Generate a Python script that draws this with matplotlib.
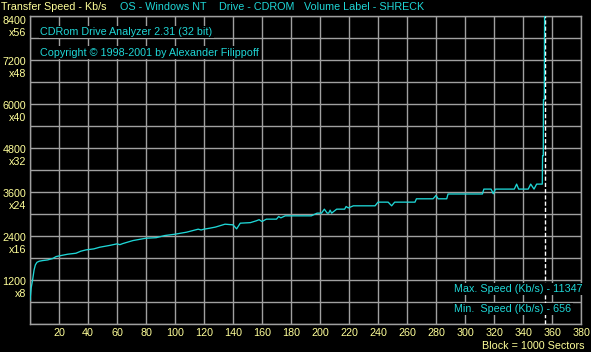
import matplotlib
matplotlib.use("Agg")
import matplotlib.pyplot as plt
import matplotlib.transforms as mtransforms

# ---- data ----
blocks = [0, 0.8, 1.8, 2.8, 3.7, 4.8, 6.4, 8.7, 12.2, 15.6, 18, 22.5, 26, 31.7, 35, 38.6,
          44, 48, 55, 60, 62, 64, 71, 80, 87, 93, 100, 108, 116, 118, 120, 124, 128,
          134.5, 140, 142.5, 145, 152, 156, 158, 160, 163, 170, 171.5, 173, 176, 194,
          198, 201, 203, 205, 206, 207, 208, 211.5, 217, 218, 219.5, 223, 238, 240, 247,
          249.4, 251.5, 265.5, 266.5, 278, 280, 281.5, 287.4, 288.3, 312, 313, 318, 319.5,
          321, 334, 335.6, 337, 343.6, 345.3, 347.6, 349.4, 353.3, 353.5, 354.0, 354.1,
          354.7, 354.8, 355.3]
speeds = [656, 980, 1200, 1470, 1610, 1680, 1710, 1727, 1745, 1782, 1836, 1873, 1900, 1927, 1982, 2018,
          2045, 2090, 2140, 2182, 2160, 2190, 2272, 2336, 2350, 2409, 2445, 2500, 2582, 2560, 2582, 2609, 2640,
          2718, 2700, 2590, 2745, 2760, 2809, 2840, 2790, 2855, 2855, 2927, 2890, 2945, 2945,
          3018, 3018, 3127, 3018, 3020, 3100, 3018, 3127, 3127, 3200, 3160, 3218, 3218, 3318, 3318,
          3218, 3318, 3318, 3409, 3409, 3500, 3409, 3409, 3540, 3540, 3673, 3673, 3545,
          3673, 3673, 3809, 3673, 3673, 3809, 3673, 3809, 3809, 4582, 4582, 6109,
          6109, 7655, 11347]
x_ticks = list(range(20, 400, 20))
y_ticks = list(range(1200, 8401, 1200))
y_mult = [v // 150 for v in y_ticks]
max_speed = 11347
min_speed = 656
end_block = 355.3

W, H = 591, 352
YEL = "#ffff99"
CYN = "#1fd6d6"
GRID = "#a0a0a0"
FONT = "Liberation Sans"
FS = 7.75

fig = plt.figure(figsize=(W / 100, H / 100), dpi=100, facecolor="black")
left, right, top, bottom = 30, 581, 15.5, 324
ax = fig.add_axes([left / W, 1 - bottom / H, (right - left) / W, (bottom - top) / H])
ax.set_facecolor("black")
ax.set_xlim(0, 380)
ax.set_ylim(0, 8400)
ax.set_xticks(range(0, 381, 20))
ax.set_yticks(range(0, 8401, 600))
ax.tick_params(length=0, labelbottom=False, labelleft=False)
ax.grid(True, color=GRID, linewidth=1.0)
for s in ax.spines.values():
    s.set_color(GRID)
    s.set_linewidth(1.0)

ax.axvline(end_block, color="white", linewidth=1.0, linestyle=(0, (3, 1.5)), zorder=3)
ax.plot(blocks, speeds, color=CYN, linewidth=0.95, zorder=4)

def fx(px):
    return px / W

def fy(py):
    return 1 - py / H

# y labels
px_per_unit = (bottom - top) / 8400.0
for v, m in zip(y_ticks, y_mult):
    gy = bottom - v * px_per_unit
    off = 5 if v == 8400 else 2
    fig.text(fx(26.5), fy(gy + off), str(v), color=YEL, fontsize=FS, family=FONT, ha="right", va="center")
    fig.text(fx(26.5), fy(gy + off + 12.5), f"x{m}", color=YEL, fontsize=FS, family=FONT, ha="right", va="center")

# x labels
tr = mtransforms.blended_transform_factory(ax.transData, fig.transFigure)
for v in x_ticks:
    ax.text(v, fy(333), str(v), color=YEL, fontsize=FS, family=FONT, ha="center", va="center", transform=tr)

fig.text(fx(584), fy(346), "Block = 1000 Sectors", color=YEL, fontsize=FS, family=FONT, ha="right", va="center")

# header
fig.text(fx(1), fy(7), "Transfer Speed - Kb/s", color=YEL, fontsize=FS, family=FONT, ha="left", va="center")
fig.text(fx(120.5), fy(7), "OS - Windows NT", color=CYN, fontsize=FS, family=FONT, ha="left", va="center")
fig.text(fx(219), fy(7), "Drive - CDROM", color=CYN, fontsize=FS, family=FONT, ha="left", va="center")
fig.text(fx(304), fy(7), "Volume Label - SHRECK", color=CYN, fontsize=FS, family=FONT, ha="left", va="center")

bb = dict(facecolor="black", edgecolor="none", pad=1.0)
fig.text(fx(40.5), fy(32), "CDRom Drive Analyzer 2.31 (32 bit)", color=CYN, fontsize=FS, family=FONT,
         ha="left", va="center", bbox=bb, zorder=5)
fig.text(fx(40.5), fy(52.5), "Copyright \u00a9 1998-2001 by Alexander Filippoff", color=CYN, fontsize=FS,
         family=FONT, ha="left", va="center", bbox=bb, zorder=5)
fig.text(fx(454), fy(289), f"Max. Speed (Kb/s) - {max_speed}", color=CYN, fontsize=FS, family=FONT,
         ha="left", va="center", bbox=bb, zorder=5)
fig.text(fx(454), fy(309), f"Min.  Speed (Kb/s) - {min_speed}", color=CYN, fontsize=FS, family=FONT,
         ha="left", va="center", bbox=bb, zorder=5)

fig.savefig("out.png", dpi=100, facecolor="black")
